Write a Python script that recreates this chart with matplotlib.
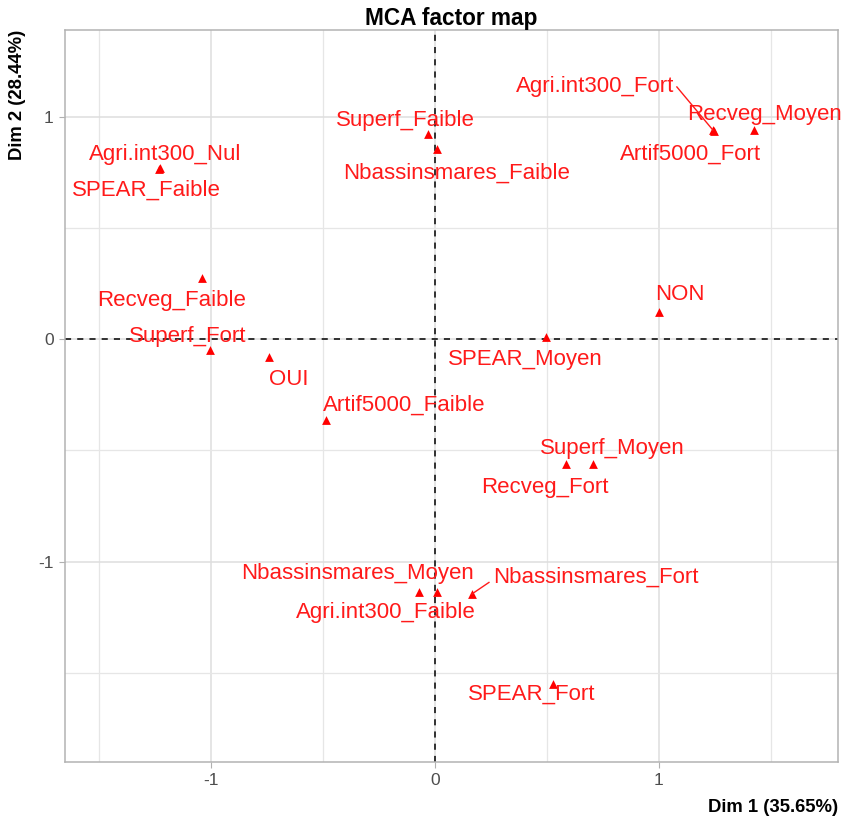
import matplotlib
matplotlib.use("Agg")
import matplotlib.pyplot as plt

plt.rcParams['font.family'] = ['Liberation Sans', 'DejaVu Sans']

categories = ["Agri.int300_Nul", "SPEAR_Faible", "Superf_Faible", "Nbassinsmares_Faible",
              "Agri.int300_Fort", "Recveg_Moyen", "Artif5000_Fort", "Recveg_Faible",
              "Superf_Fort", "OUI", "Artif5000_Faible", "NON", "SPEAR_Moyen",
              "Superf_Moyen", "Recveg_Fort", "Nbassinsmares_Moyen", "Nbassinsmares_Fort",
              "Agri.int300_Faible", "SPEAR_Fort"]
dim1 = [-1.228, -1.232, -0.031, 0.009, 1.241, 1.424, 1.245, -1.04, -1.004, -0.741, -0.487,
        1.0, 0.496, 0.705, 0.585, -0.071, 0.165, 0.009, 0.527]
dim2 = [0.769, 0.765, 0.921, 0.854, 0.939, 0.939, 0.936, 0.274, -0.049, -0.08, -0.364,
        0.121, 0.009, -0.562, -0.562, -1.139, -1.146, -1.137, -1.55]
# label positions (repelled)
lab_x = [-1.205, -1.29, -0.13, 0.098, 0.714, 1.472, 1.143, -1.174, -1.103, -0.652, -0.138,
         1.094, 0.402, 0.79, 0.49, -0.348, 0.719, -0.219, 0.433]
lab_y = [0.828, 0.67, 0.984, 0.746, 1.137, 1.011, 0.831, 0.171, 0.013, -0.184, -0.297,
         0.198, -0.092, -0.490, -0.666, -1.056, -1.070, -1.231, -1.596]
# labels that get a connecting segment: segment start (near label)
segments = {"Agri.int300_Fort": (1.080, 1.133), "Nbassinsmares_Fort": (0.241, -1.094)}

xlabel = "Dim 1 (35.65%)"
ylabel = "Dim 2 (28.44%)"
title = "MCA factor map"

fig = plt.figure(figsize=(8.55, 8.21), dpi=100)
ax = fig.add_axes([0.076, 0.0719, 0.904, 0.8916])
ax.set_xlim(-1.652, 1.799)
ax.set_ylim(-1.901, 1.389)

ax.set_xticks([-1, 0, 1])
ax.set_yticks([-1, 0, 1])
ax.set_xticklabels(["-1", "0", "1"])
ax.set_yticklabels(["-1", "0", "1"])
ax.set_xticks([-1.5, -0.5, 0.5, 1.5], minor=True)
ax.set_yticks([-1.5, -0.5, 0.5], minor=True)
ax.grid(True, which='major', color='#dedede', linewidth=1.1)
ax.grid(True, which='minor', color='#e6e6e6', linewidth=0.9)
ax.set_axisbelow(True)
ax.tick_params(which='major', length=4, color='#b0b0b0', labelcolor='#4d4d4d', labelsize=12.5, pad=4)
ax.tick_params(which='minor', length=0)
for s in ax.spines.values():
    s.set_color('#b3b3b3')
    s.set_linewidth(1.1)

ax.axhline(0, color='black', linestyle=(0, (4, 4)), linewidth=1.1)
ax.axvline(0, color='black', linestyle=(0, (4, 4)), linewidth=1.1)

ax.scatter(dim1, dim2, marker='^', s=40, color='red', zorder=3, linewidths=0)

for name, lx, ly in zip(categories, lab_x, lab_y):
    ax.text(lx, ly, name, color='#ff1a1a', fontsize=16, ha='center', va='center', zorder=4)

for name, (sx, sy) in segments.items():
    i = categories.index(name)
    ax.plot([sx, dim1[i]], [sy, dim2[i]], color='#ff1a1a', linewidth=1, zorder=3)

ax.set_title(title, fontsize=16.3, fontweight='bold', pad=3)
ax.set_xlabel(xlabel, fontsize=13.3, fontweight='bold', loc='right', labelpad=8)
ax.set_ylabel(ylabel, fontsize=13.3, fontweight='bold', loc='top', labelpad=9)

fig.savefig("out.png", dpi=100)
